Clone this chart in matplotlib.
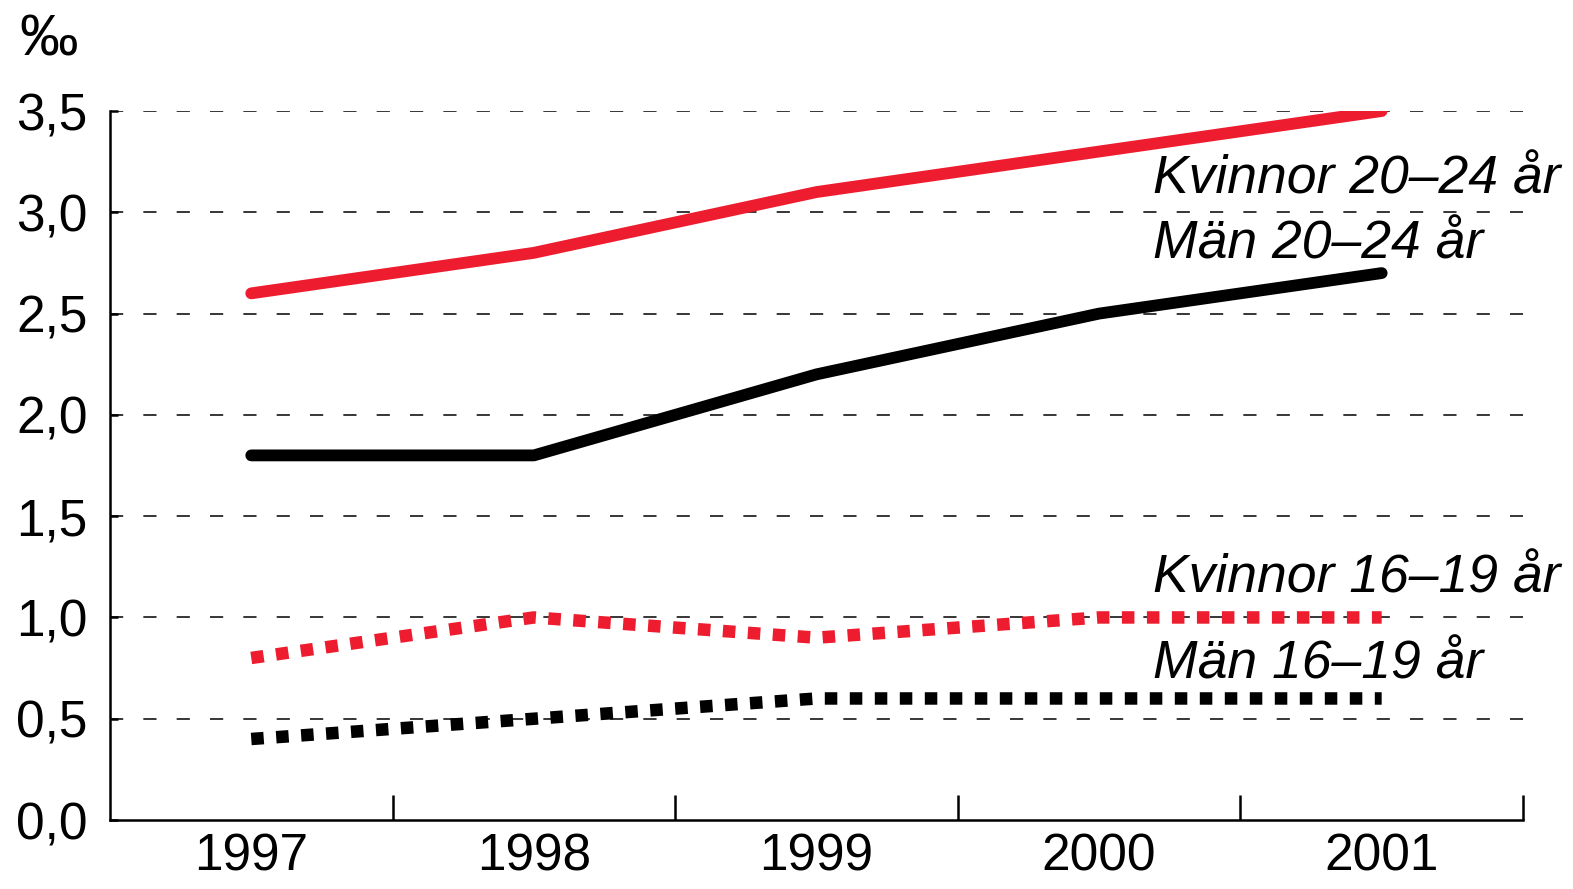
import matplotlib
matplotlib.use('Agg')
import matplotlib.pyplot as plt

plt.rcParams['font.family'] = ['Liberation Sans', 'DejaVu Sans']
plt.rcParams['lines.scale_dashes'] = False

years = ['1997', '1998', '1999', '2000', '2001']
kvinnor_20_24 = [2.6, 2.8, 3.1, 3.3, 3.5]
man_20_24 = [1.8, 1.8, 2.2, 2.5, 2.7]
kvinnor_16_19 = [0.8, 1.0, 0.9, 1.0, 1.0]
man_16_19 = [0.4, 0.5, 0.6, 0.6, 0.6]
yticks = [0.0, 0.5, 1.0, 1.5, 2.0, 2.5, 3.0, 3.5]
ytick_labels = ['0,0', '0,5', '1,0', '1,5', '2,0', '2,5', '3,0', '3,5']

RED = '#ED1C2E'

fig = plt.figure(figsize=(15.73, 8.89), dpi=100)
ax = fig.add_axes([0.0699, 0.0776, 0.8983, 0.7975])

x = list(range(len(years)))

# grid
for y in yticks[1:]:
    ax.axhline(y, color='black', lw=1.1, linestyle=(0, (9.5, 14.5)), zorder=1)

ax.plot(x, kvinnor_20_24, color=RED, lw=8.5, solid_capstyle='round', zorder=3)
ax.plot(x, man_20_24, color='black', lw=8.5, solid_capstyle='round', zorder=3)
ax.plot(x, kvinnor_16_19, color=RED, lw=9, linestyle=(0, (9, 9)),
        dash_capstyle='butt', zorder=3)
ax.plot(x, man_16_19, color='black', lw=9, linestyle=(0, (9, 9)),
        dash_capstyle='butt', zorder=3)

lab_kw = dict(fontsize=38.5, style='italic', ha='left', va='center')
ax.text(3.19, 3.16, 'Kvinnor 20–24 år', **lab_kw)
ax.text(3.19, 2.84, 'Män 20–24 år', **lab_kw)
ax.text(3.19, 1.19, 'Kvinnor 16–19 år', **lab_kw)
ax.text(3.19, 0.77, 'Män 16–19 år', **lab_kw)

ax.set_xlim(-0.5, 4.5)
ax.set_ylim(0, 3.5)

ax.set_xticks([0.5, 1.5, 2.5, 3.5, 4.5])
ax.set_xticklabels([])
ax.set_xticks(x, minor=True)
ax.set_xticklabels(years, minor=True, fontsize=37)
ax.tick_params(axis='x', which='major', direction='in', length=18, width=1.8)
ax.tick_params(axis='x', which='minor', length=0, pad=9)

ax.set_yticks(yticks)
ax.set_yticklabels(ytick_labels, fontsize=37)
ax.tick_params(axis='y', direction='in', length=6, width=1.8, pad=16)

for s in ['top', 'right']:
    ax.spines[s].set_visible(False)
for s in ['left', 'bottom']:
    ax.spines[s].set_linewidth(1.8)

fig.text(0.012, 0.955, '‰', fontsize=42, ha='left', va='center')

fig.savefig('out.png', dpi=100)
